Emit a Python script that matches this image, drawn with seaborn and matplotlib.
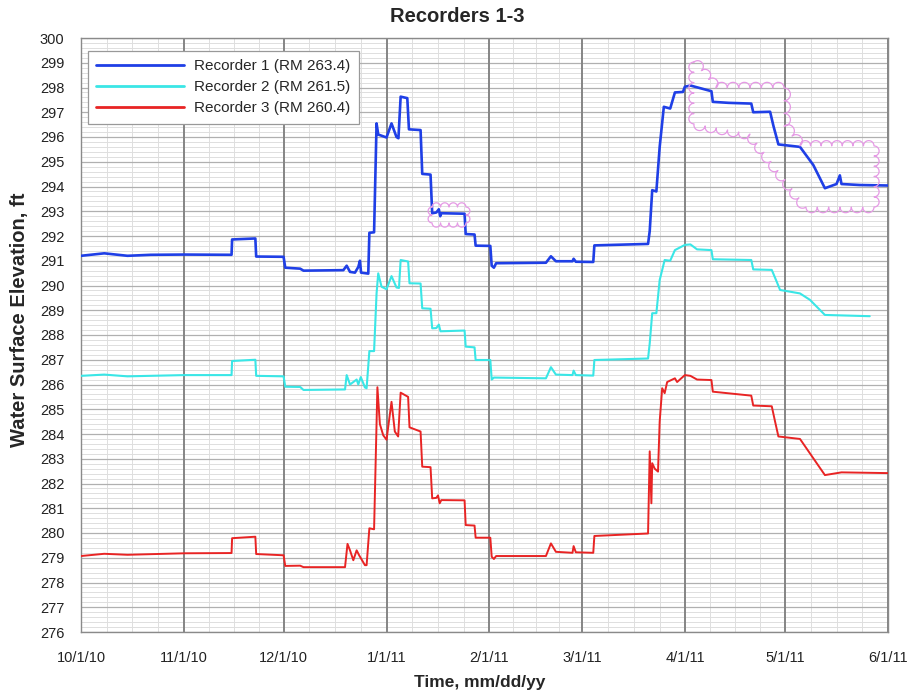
import matplotlib
matplotlib.use("Agg")
import matplotlib.pyplot as plt
import matplotlib.dates as mdates
from matplotlib.ticker import MultipleLocator, FixedLocator
import numpy as np
import pandas as pd
import seaborn as sns

# ---- values ----
recorder_names = ["Recorder 1 (RM 263.4)", "Recorder 2 (RM 261.5)", "Recorder 3 (RM 260.4)"]
recorder_colors = ["#1f3fe6", "#3ae6e6", "#e82424"]

r1_time = ["2010-10-01", "2010-10-08", "2010-10-15", "2010-10-22", "2010-11-01",
           "2010-11-15 08:00", "2010-11-15 12:00", "2010-11-22 12:00", "2010-11-22 18:00",
           "2010-12-01 00:00", "2010-12-01 12:00", "2010-12-06", "2010-12-07", "2010-12-19",
           "2010-12-20", "2010-12-21", "2010-12-22 12:00", "2010-12-23 12:00", "2010-12-24 00:00",
           "2010-12-24 08:00", "2010-12-26 12:00", "2010-12-26 20:00", "2010-12-28 06:00",
           "2010-12-29 00:00", "2010-12-29 12:00", "2011-01-01 00:00", "2011-01-02 12:00",
           "2011-01-04 00:00", "2011-01-04 14:00", "2011-01-05 06:00", "2011-01-07 06:00",
           "2011-01-07 18:00", "2011-01-11 06:00", "2011-01-11 18:00", "2011-01-14 06:00",
           "2011-01-14 18:00", "2011-01-16 00:00", "2011-01-16 18:00", "2011-01-17 04:00",
           "2011-01-17 12:00", "2011-01-24 12:00", "2011-01-24 20:00", "2011-01-27 12:00",
           "2011-01-27 20:00", "2011-02-01 06:00", "2011-02-01 16:00", "2011-02-02 08:00",
           "2011-02-03", "2011-02-18", "2011-02-19 12:00", "2011-02-21", "2011-02-26 00:00",
           "2011-02-26 08:00", "2011-02-27", "2011-03-04 06:00", "2011-03-04 14:00",
           "2011-03-20 18:00", "2011-03-21 06:00", "2011-03-22 00:00", "2011-03-23 06:00",
           "2011-03-24 06:00", "2011-03-25 12:00", "2011-03-27 10:00", "2011-03-28 20:00",
           "2011-03-31 06:00", "2011-03-31 20:00", "2011-04-02 12:00", "2011-04-08 20:00",
           "2011-04-09 06:00", "2011-04-14", "2011-04-20 20:00", "2011-04-21 10:00",
           "2011-04-26 12:00", "2011-04-27 12:00", "2011-04-29 00:00", "2011-05-05 12:00",
           "2011-05-09 12:00", "2011-05-13 00:00", "2011-05-16 12:00", "2011-05-17 12:00",
           "2011-05-18 00:00", "2011-05-23 12:00", "2011-06-01"]
r1_elev = [291.20, 291.30, 291.20, 291.24, 291.25,
           291.24, 291.86, 291.90, 291.17,
           291.16, 290.72, 290.68, 290.60, 290.62,
           290.80, 290.55, 290.52, 290.75, 291.00,
           290.52, 290.48, 292.13, 292.15,
           296.55, 296.10, 295.98, 296.55,
           296.00, 295.95, 297.63, 297.57,
           296.31, 296.28, 294.51, 294.48,
           292.92, 292.95, 293.08, 292.80,
           292.92, 292.90, 292.08, 292.06,
           291.61, 291.60, 290.80, 290.72,
           290.90, 290.92, 291.18, 290.98, 290.98,
           291.08, 290.96, 290.95, 291.62,
           291.68, 292.20, 293.85, 293.80,
           295.60, 297.22, 297.15, 297.80,
           297.82, 298.03, 298.08, 297.85,
           297.42, 297.38, 297.35, 297.00,
           297.02, 296.45, 295.70, 295.60,
           294.87, 293.93, 294.10, 294.45,
           294.10, 294.06, 294.04]

r2_time = ["2010-10-01", "2010-10-08", "2010-10-15", "2010-11-01",
           "2010-11-15 08:00", "2010-11-15 12:00", "2010-11-22 12:00", "2010-11-22 18:00",
           "2010-12-01 00:00", "2010-12-01 12:00", "2010-12-06", "2010-12-07", "2010-12-19 12:00",
           "2010-12-20", "2010-12-21", "2010-12-23 00:00", "2010-12-23 12:00", "2010-12-24 06:00",
           "2010-12-25 12:00", "2010-12-26 00:00", "2010-12-26 20:00", "2010-12-28 06:00",
           "2010-12-29 00:00", "2010-12-29 12:00", "2010-12-30 12:00", "2011-01-01 00:00",
           "2011-01-02 12:00", "2011-01-04 00:00", "2011-01-04 18:00", "2011-01-05 06:00",
           "2011-01-07 12:00", "2011-01-07 22:00", "2011-01-11 06:00", "2011-01-11 18:00",
           "2011-01-14 06:00", "2011-01-14 18:00", "2011-01-16 00:00", "2011-01-16 18:00",
           "2011-01-17 06:00", "2011-01-24 12:00", "2011-01-24 20:00", "2011-01-27 12:00",
           "2011-01-27 20:00", "2011-02-01 06:00", "2011-02-01 16:00", "2011-02-02 08:00",
           "2011-02-18", "2011-02-19 12:00", "2011-02-21", "2011-02-26 00:00",
           "2011-02-26 08:00", "2011-02-27", "2011-03-04 06:00", "2011-03-04 14:00",
           "2011-03-20 18:00", "2011-03-21 06:00", "2011-03-22 00:00", "2011-03-23 06:00",
           "2011-03-24 06:00", "2011-03-25 18:00", "2011-03-27 10:00", "2011-03-28 20:00",
           "2011-03-31 20:00", "2011-04-02 12:00", "2011-04-04 12:00", "2011-04-08 20:00",
           "2011-04-09 06:00", "2011-04-20 20:00", "2011-04-21 10:00", "2011-04-27 00:00",
           "2011-04-28 12:00", "2011-04-29 12:00", "2011-05-05 12:00", "2011-05-08 12:00",
           "2011-05-13 00:00", "2011-05-26 12:00"]
r2_elev = [286.35, 286.40, 286.33, 286.38,
           286.38, 286.95, 287.00, 286.35,
           286.33, 285.91, 285.90, 285.78, 285.80,
           286.38, 286.00, 286.20, 286.00, 286.30,
           285.88, 285.85, 287.35, 287.35,
           289.68, 290.49, 289.95, 289.85,
           290.38, 289.92, 289.90, 291.03,
           290.97, 290.09, 290.08, 289.08,
           289.06, 288.27, 288.28, 288.42,
           288.15, 288.18, 287.53, 287.50,
           286.99, 286.99, 286.20, 286.28,
           286.25, 286.70, 286.40, 286.38,
           286.56, 286.38, 286.36, 286.99,
           287.05, 287.66, 288.88, 288.88,
           290.22, 291.03, 291.00, 291.43,
           291.64, 291.66, 291.46, 291.43,
           291.06, 291.03, 290.65, 290.63,
           290.15, 289.82, 289.68, 289.42,
           288.81, 288.76]

r3_time = ["2010-10-01", "2010-10-08", "2010-10-15", "2010-11-01",
           "2010-11-15 08:00", "2010-11-15 12:00", "2010-11-22 12:00", "2010-11-22 18:00",
           "2010-12-01 00:00", "2010-12-01 12:00", "2010-12-06", "2010-12-07", "2010-12-19 12:00",
           "2010-12-20 06:00", "2010-12-21", "2010-12-22", "2010-12-23", "2010-12-23 18:00",
           "2010-12-25 12:00", "2010-12-26 00:00", "2010-12-26 20:00", "2010-12-28 06:00",
           "2010-12-29 06:00", "2010-12-30", "2010-12-31", "2011-01-01",
           "2011-01-02 12:00", "2011-01-03 12:00", "2011-01-04 12:00", "2011-01-05 06:00",
           "2011-01-07 12:00", "2011-01-07 22:00", "2011-01-11 06:00", "2011-01-11 18:00",
           "2011-01-14 06:00", "2011-01-14 18:00", "2011-01-16 00:00", "2011-01-16 12:00",
           "2011-01-17 00:00", "2011-01-17 12:00", "2011-01-24 12:00", "2011-01-24 20:00",
           "2011-01-27 12:00", "2011-01-27 20:00", "2011-02-01 06:00", "2011-02-01 16:00",
           "2011-02-02 08:00", "2011-02-03", "2011-02-18", "2011-02-19 12:00", "2011-02-21",
           "2011-02-26 00:00", "2011-02-26 08:00", "2011-02-27", "2011-03-04 06:00",
           "2011-03-04 14:00", "2011-03-20 18:00", "2011-03-21 06:00", "2011-03-21 18:00",
           "2011-03-22 00:00", "2011-03-22 18:00", "2011-03-23 18:00", "2011-03-24 06:00",
           "2011-03-25 00:00", "2011-03-25 18:00", "2011-03-26 12:00", "2011-03-28 20:00",
           "2011-03-29 12:00", "2011-03-31 20:00", "2011-04-02 12:00", "2011-04-04 12:00",
           "2011-04-08 20:00", "2011-04-09 06:00", "2011-04-20 20:00", "2011-04-21 10:00",
           "2011-04-27 00:00", "2011-04-28 00:00", "2011-04-29 00:00", "2011-05-05 12:00",
           "2011-05-13 00:00", "2011-05-18 00:00", "2011-06-01"]
r3_elev = [279.07, 279.16, 279.12, 279.18,
           279.19, 279.79, 279.85, 279.15,
           279.10, 278.67, 278.68, 278.62, 278.62,
           279.56, 279.30, 278.90, 279.30, 279.10,
           278.70, 278.70, 280.19, 280.15,
           285.89, 284.40, 283.95, 283.77,
           285.30, 284.10, 283.90, 285.67,
           285.50, 284.27, 284.10, 282.68,
           282.66, 281.40, 281.42, 281.52,
           281.20, 281.33, 281.32, 280.32,
           280.30, 279.81, 279.81, 279.04,
           278.95, 279.07, 279.07, 279.58, 279.24,
           279.20, 279.47, 279.22, 279.20,
           279.88, 279.98, 283.30, 281.20,
           282.82, 282.60, 282.48, 284.50,
           285.85, 285.65, 286.10, 286.25,
           286.10, 286.38, 286.35, 286.20,
           286.18, 285.71, 285.55, 285.15,
           285.12, 284.50, 283.90, 283.80,
           282.34, 282.45, 282.42]

month_starts = ["2010-10-01", "2010-11-01", "2010-12-01", "2011-01-01", "2011-02-01",
                "2011-03-01", "2011-04-01", "2011-05-01", "2011-06-01"]

# revision clouds (outline corners, time / elevation)
cloud1_time = ["2011-01-14 17:00", "2011-01-24 22:00", "2011-01-24 22:00", "2011-01-14 17:00"]
cloud1_elev = [293.17, 293.17, 292.53, 292.53]
cloud2_time = ["2011-04-03 14:00", "2011-04-10 05:00", "2011-04-30 17:00", "2011-04-30 17:00",
               "2011-05-05 12:00", "2011-05-27 19:00", "2011-05-27 19:00", "2011-05-07 07:00",
               "2011-04-20 10:00", "2011-04-03 14:00"]
cloud2_elev = [299.03, 297.98, 297.98, 296.44, 295.64, 295.64, 293.17, 293.17, 296.12, 296.53]


def to_dates(strings):
    return pd.to_datetime(strings, format="ISO8601")


sns.set_style("white")
plt.rcParams["font.family"] = ["Liberation Sans", "DejaVu Sans"]

df = pd.concat([
    pd.DataFrame({"time": to_dates(t), "elev": e, "recorder": n})
    for t, e, n in zip([r1_time, r2_time, r3_time], [r1_elev, r2_elev, r3_elev], recorder_names)
])

fig = plt.figure(figsize=(9.1, 7.0), dpi=100)
ax = fig.add_axes([81 / 910, 1 - 632 / 700, 807 / 910, 594 / 700])

sns.lineplot(data=df, x="time", y="elev", hue="recorder", hue_order=recorder_names,
             palette=dict(zip(recorder_names, recorder_colors)), estimator=None,
             sort=False, linewidth=1.6, legend=False, ax=ax, zorder=3)
series_lines = ax.lines[:3]
for ln, w in zip(series_lines, [1.9, 1.5, 1.4]):
    ln.set_linewidth(w)

months = to_dates(month_starts)
ax.set_xlim(months[0], months[-1])
ax.set_ylim(276, 300)

# axis ticks and grid
mnum = mdates.date2num(months)
minor_x = [a + k * (b - a) / 4 for a, b in zip(mnum[:-1], mnum[1:]) for k in (1, 2, 3)]
ax.xaxis.set_major_locator(FixedLocator(mnum))
ax.xaxis.set_minor_locator(FixedLocator(minor_x))
ax.xaxis.set_major_formatter(mdates.DateFormatter("%-m/%-d/%y"))
ax.yaxis.set_major_locator(MultipleLocator(1))
ax.yaxis.set_minor_locator(MultipleLocator(0.2))

ax.grid(which="major", axis="y", color="#b0b0b0", lw=0.9)
ax.grid(which="minor", axis="both", color="#dedede", lw=0.7)
ax.set_axisbelow(True)
# month lines sit above the light grid
for m in months:
    ax.axvline(m, color="#858585", lw=1.4, zorder=1)

ax.tick_params(which="major", direction="out", length=6, width=0.9, color="#808080",
               labelsize=10.5, labelcolor="#222222")
ax.tick_params(which="minor", direction="out", length=3, width=0.7, color="#a0a0a0")
ax.tick_params(axis="x", pad=8)
ax.tick_params(axis="y", pad=6)
for s in ax.spines.values():
    s.set_color("#8a8a8a")
    s.set_linewidth(1.0)

ax.set_xlabel("Time, mm/dd/yy", fontsize=12.5, fontweight="bold")
ax.set_ylabel("Water Surface Elevation, ft", fontsize=14.5, fontweight="bold")
ax.xaxis.set_label_coords(0.494, -0.072)
ax.yaxis.set_label_coords(-0.064, 0.525)
fig.text(0.502, 0.977, "Recorders 1-3", ha="center", va="center",
         fontsize=14.5, fontweight="bold")

leg = ax.legend(series_lines, recorder_names, loc="upper left",
                bbox_to_anchor=(0.0087, 0.978), borderaxespad=0, fontsize=11,
                handlelength=5.75, handletextpad=0.65, labelspacing=0.45,
                borderpad=0.55, fancybox=False, framealpha=1, edgecolor="#999999")
leg.get_frame().set_linewidth(0.9)
leg.set_zorder(6)
for h in leg.get_lines():
    h.set_linewidth(2.0)


def draw_cloud(ax, times, elevs, bump=11.0, color="#e59ae5"):
    xy = ax.transData.transform(np.column_stack(
        [mdates.date2num(to_dates(times)), elevs]))
    pts = np.vstack([xy, xy[:1]])
    area = 0.5 * np.sum(pts[:-1, 0] * pts[1:, 1] - pts[1:, 0] * pts[:-1, 1])
    sign = 1 if area > 0 else -1
    arcs = []
    th = np.linspace(np.pi, 0, 14)
    for a, b in zip(pts[:-1], pts[1:]):
        seg = b - a
        length = np.hypot(*seg)
        n = max(1, int(round(length / bump)))
        u = seg / length
        nrm = np.array([u[1], -u[0]]) * sign
        r = length / n / 2
        for k in range(n):
            m = a + u * (2 * k + 1) * r
            arcs.append(m + r * (np.cos(th)[:, None] * u + np.sin(th)[:, None] * nrm))
    path = ax.transData.inverted().transform(np.vstack(arcs))
    ax.plot(path[:, 0], path[:, 1], color=color, lw=0.9, zorder=4)


draw_cloud(ax, cloud1_time, cloud1_elev, bump=9.0)
draw_cloud(ax, cloud2_time, cloud2_elev, bump=11.0)

fig.savefig("out.png", dpi=100)
